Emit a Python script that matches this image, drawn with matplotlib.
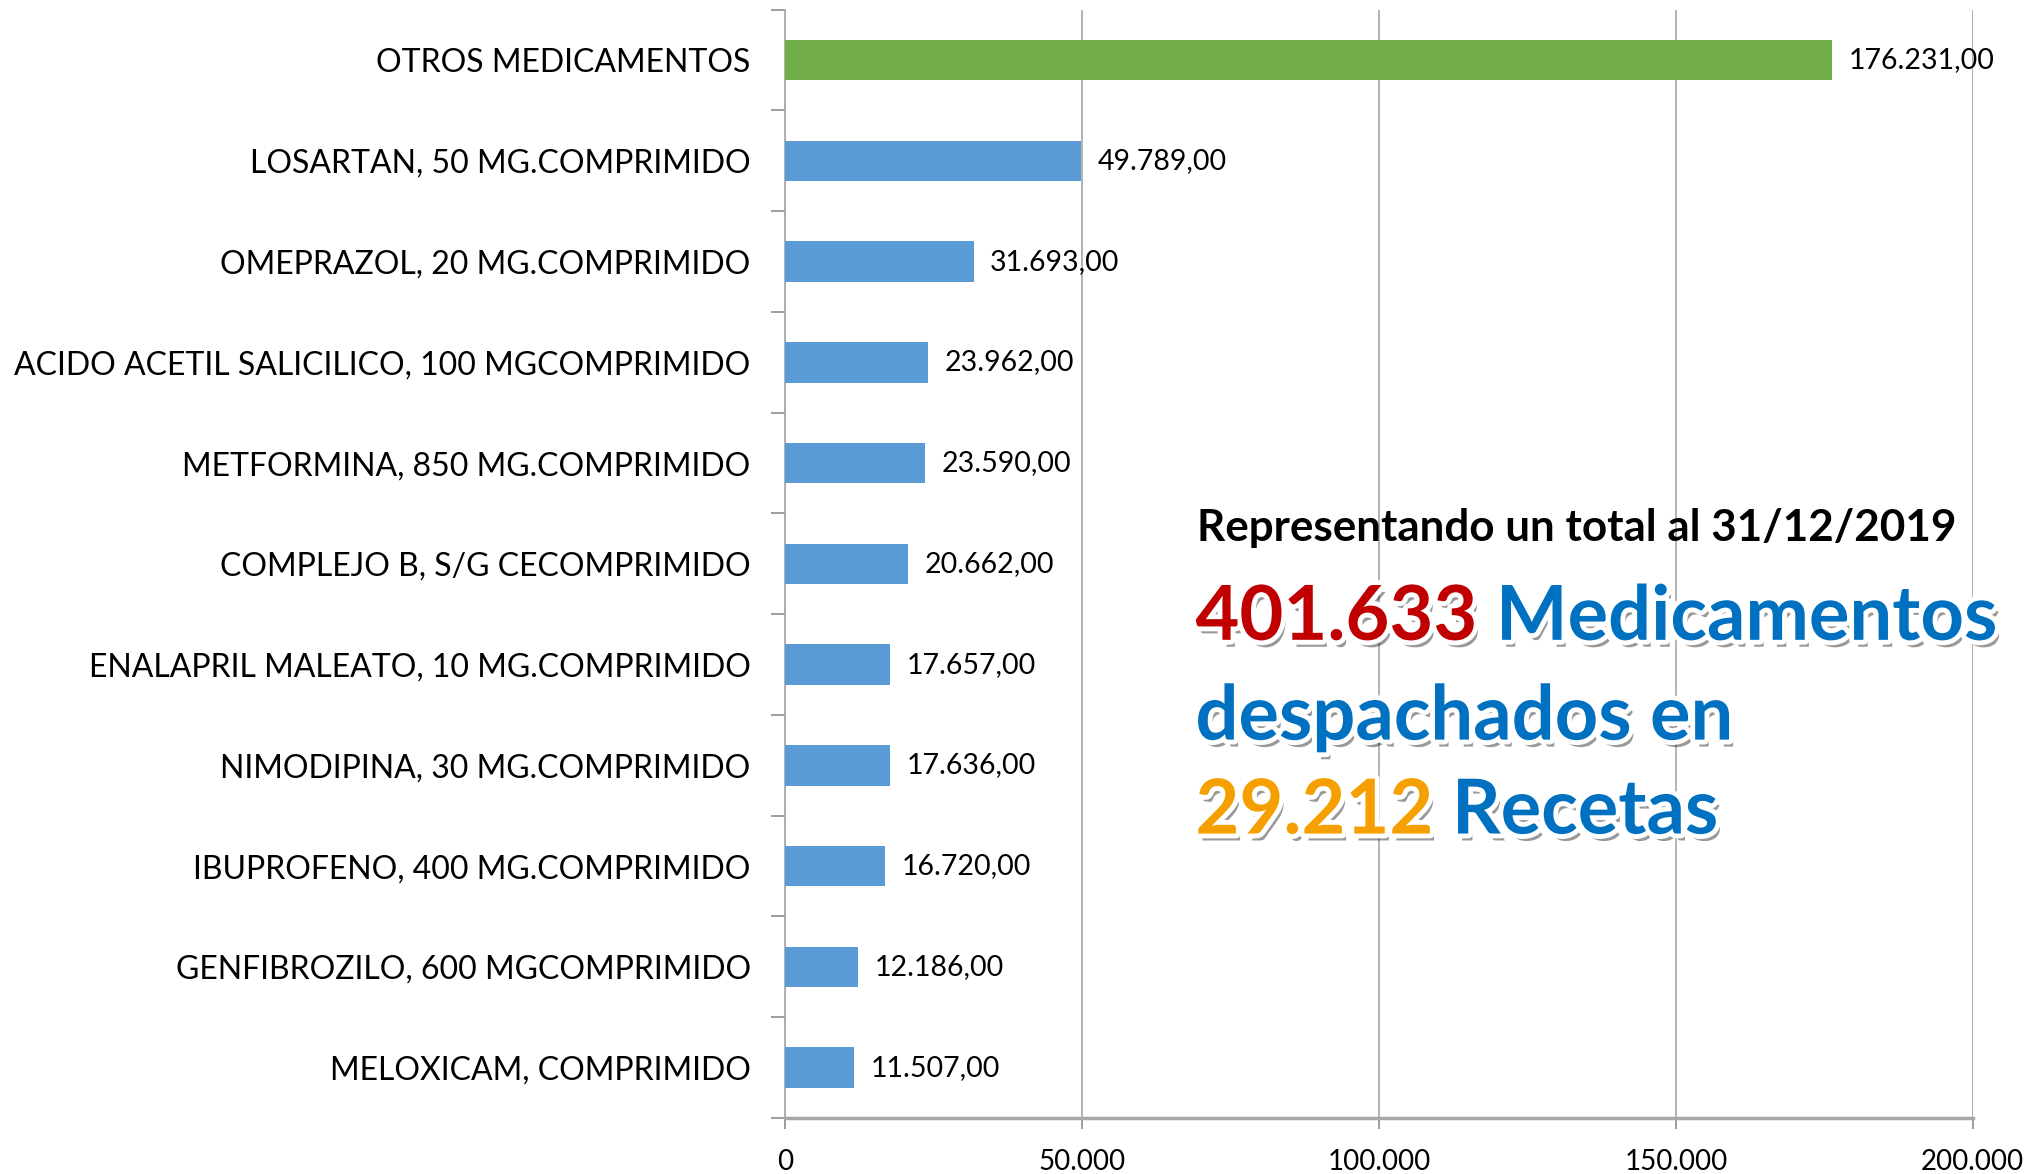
import matplotlib
matplotlib.use("Agg")
import matplotlib.pyplot as plt
import matplotlib.patheffects as pe
from matplotlib.ticker import FixedLocator, FuncFormatter

categories = [
    "OTROS MEDICAMENTOS",
    "LOSARTAN, 50 MG.COMPRIMIDO",
    "OMEPRAZOL, 20 MG.COMPRIMIDO",
    "ACIDO ACETIL SALICILICO, 100 MGCOMPRIMIDO",
    "METFORMINA, 850 MG.COMPRIMIDO",
    "COMPLEJO B, S/G CECOMPRIMIDO",
    "ENALAPRIL MALEATO, 10 MG.COMPRIMIDO",
    "NIMODIPINA, 30 MG.COMPRIMIDO",
    "IBUPROFENO, 400 MG.COMPRIMIDO",
    "GENFIBROZILO, 600 MGCOMPRIMIDO",
    "MELOXICAM, COMPRIMIDO",
]
values = [176231, 49789, 31693, 23962, 23590, 20662, 17657, 17636, 16720, 12186, 11507]
x_ticks = [0, 50000, 100000, 150000, 200000]

FONT = ['Lato', 'DejaVu Sans']
BOLD = ['Lato', 'DejaVu Sans']

plt.rcParams['font.family'] = FONT

def fmt_es(v, dec=0):
    s = f"{v:,.{dec}f}"
    return s.replace(",", "X").replace(".", ",").replace("X", ".")

fig = plt.figure(figsize=(20.4, 11.74), dpi=100)
ax = fig.add_axes([0.385, 0.0477, 0.582, 0.944])

n = len(categories)
ypos = list(range(n))
colors = ['#70AD47'] + ['#5B9BD5'] * (n - 1)
ax.barh(ypos, values, height=0.4, color=colors, zorder=3)
ax.set_ylim(n - 0.5, -0.5)
ax.set_xlim(0, 200000)

ax.xaxis.set_major_locator(FixedLocator(x_ticks))
ax.xaxis.set_major_formatter(FuncFormatter(lambda v, p: fmt_es(v)))
ax.set_yticks(ypos)
ax.set_yticklabels(categories, fontsize=23)
ax.tick_params(axis='y', length=0, pad=25)
ax.set_yticks([i - 0.5 for i in range(n + 1)], minor=True)
ax.tick_params(axis='y', which='minor', length=10, width=1.2, color='#8C8C8C', direction='out')
ax.tick_params(axis='x', length=8, width=1.2, color='#8C8C8C', labelsize=20, pad=14)

ax.grid(axis='x', color='#A6A6A6', linewidth=1.2, zorder=0)
for s in ['top', 'right']:
    ax.spines[s].set_visible(False)
ax.spines['left'].set_color('#A6A6A6')
ax.spines['left'].set_linewidth(1.2)
ax.spines['bottom'].set_color('#A6A6A6')
ax.spines['bottom'].set_linewidth(2.5)

for y, v in zip(ypos, values):
    ax.annotate(fmt_es(v, 2), xy=(v, y), xytext=(12, 0), textcoords='offset points',
                va='center', ha='left', fontsize=20.5, color='#000000', zorder=4)

fig.text(0.587, 0.539, "Representando un total al 31/12/2019", fontsize=31.7,
         fontweight='bold', family=BOLD, color='#000000', va='baseline', ha='left')

effects = [pe.withSimplePatchShadow(offset=(3, -5), shadow_rgbFace='#000000', alpha=0.4),
           pe.Stroke(linewidth=7, foreground='white'), pe.Normal()]
big = 54.6

def big_line(y, parts):
    x = 0.586
    t = None
    for txt, col in parts:
        t = fig.text(x, y, txt, fontsize=big, fontweight='bold', family=BOLD, color=col,
                     va='baseline', ha='left', path_effects=effects)
        fig.canvas.draw()
        bb = t.get_window_extent()
        x = bb.x1 / fig.bbox.width
    return t

big_line(0.455, [("401.633 ", '#C00000'), ("Medicamentos", '#0070C0')])
big_line(0.370, [("despachados en", '#0070C0')])
big_line(0.290, [("29.212 ", '#F5A000'), ("Recetas", '#0070C0')])

fig.savefig("out.png", dpi=100)
